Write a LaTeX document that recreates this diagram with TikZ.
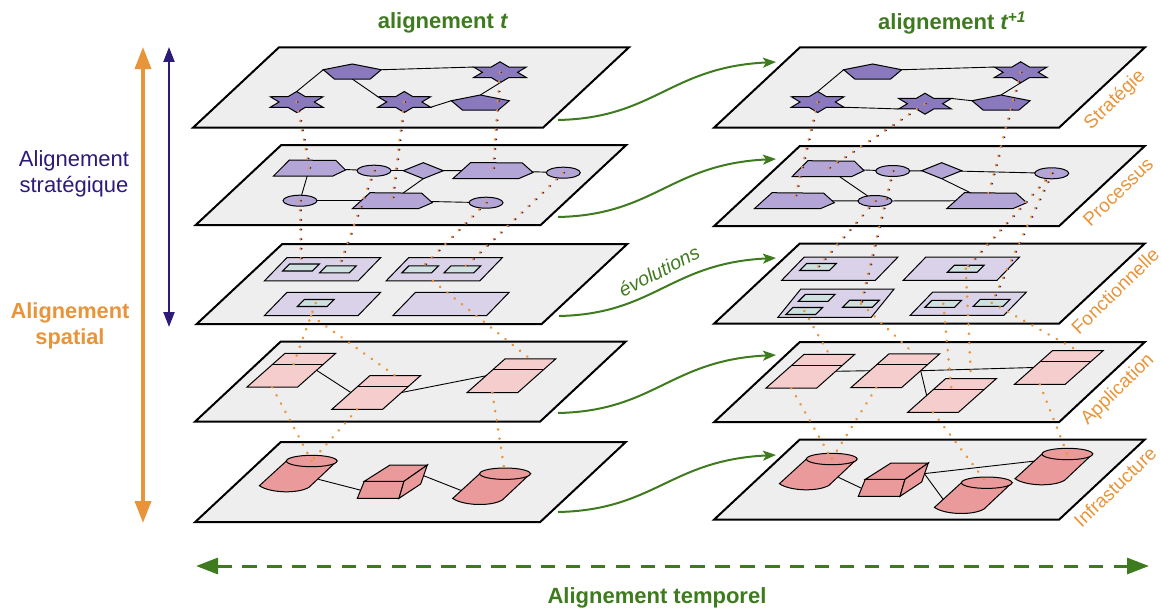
\documentclass[tikz,border=0pt]{standalone}
\usepackage{fontspec}
\setmainfont{Liberation Sans}
\usetikzlibrary{arrows.meta,shapes.geometric,calc}
\pgfdeclarelayer{plate}
\pgfdeclarelayer{edge}
\pgfsetlayers{plate,edge,main}
\definecolor{plategray}{HTML}{EEEEEE}
\definecolor{stratfill}{HTML}{8A7ABD}
\definecolor{procfill}{HTML}{B3A5D5}
\definecolor{funcfill}{HTML}{DAD2E8}
\definecolor{smallfill}{HTML}{CFE0E1}
\definecolor{appfill}{HTML}{F5CDCD}
\definecolor{infrafill}{HTML}{EA9A9A}
\definecolor{deepgreen}{HTML}{3E7B1E}
\definecolor{warmorange}{HTML}{E8943A}
\definecolor{deeppurple}{HTML}{2E1A78}
\begin{document}
\begin{tikzpicture}[x=1pt,y=-1pt]
\tikzset{
plane/.style={draw,fill=plategray,line width=2pt,xslant=1.07,transform shape,minimum width=345pt,minimum height=80pt,inner sep=0pt},
shapeline/.style={draw,line width=1pt,inner sep=0pt,outer sep=0pt},
starnode/.style={shapeline,fill=stratfill,star,star points=6,star point ratio=1.73,minimum size=21pt,xscale=2.9,transform shape},
pentnode/.style={shapeline,fill=stratfill,regular polygon,regular polygon sides=5,minimum size=20pt,xscale=3.05,yscale=.83,transform shape},
ovalnode/.style={shapeline,fill=procfill,ellipse,minimum width=34pt,minimum height=11pt},
gemnode/.style={shapeline,fill=procfill,diamond,minimum width=40pt,minimum height=16pt},
funcbox/.style={shapeline,fill=funcfill,xslant=.97,transform shape,minimum width=93.7pt,minimum height=23.3pt},
funchigh/.style={shapeline,fill=funcfill,xslant=.81,transform shape,minimum width=93.3pt,minimum height=28.3pt},
smallbox/.style={shapeline,fill=smallfill,line width=1.1pt,xslant=1,transform shape,minimum width=29.7pt,minimum height=7pt},
appbox/.style={shapeline,fill=appfill,xslant=1.127,transform shape,minimum width=50.7pt,minimum height=33.7pt,
  append after command={($(\tikzlastnode.north west)!.32!(\tikzlastnode.south west)$) edge [draw,line width=1.2pt] ($(\tikzlastnode.north east)!.32!(\tikzlastnode.south east)$)}},
wire/.style={line width=.9pt},
linkboth/.style={draw=warmorange,line width=3pt,line cap=round,dash pattern=on .1pt off 9.5pt,postaction={draw=deeppurple,line width=1.7pt,transform canvas={xshift=1.1pt}}},
linkone/.style={draw=warmorange,line width=2.8pt,line cap=round,dash pattern=on .1pt off 9.2pt},
evol/.style={draw=deepgreen,line width=2pt,-{Stealth[length=13pt,width=10pt,inset=3pt]}},
layername/.style={text=warmorange,font=\fontsize{19}{23}\selectfont,rotate=44},
column/.style={text=deepgreen,font=\fontsize{22}{26}\selectfont\bfseries},
hexa/.pic={\draw [shapeline,fill=procfill] (-40,8) -- (-22.3,-8) -- (29.4,-7.5) -- (40,2) -- (26,8) -- cycle; \coordinate (-c) at (0,0);},
drum/.pic={\draw [shapeline,fill=infrafill] (-25.3,0) -- (-52.3,24.7) .. controls (-42,32) and (-14,33) .. (-2.7,26.3) -- (25.3,0) -- cycle;
  \draw [shapeline,fill=infrafill] (0,0) ellipse [x radius=25.3pt,y radius=5.7pt];
  \coordinate (-c) at (0,0); \coordinate (-r) at (6.7,18.3); \coordinate (-l) at (-43.3,17); \coordinate (-u) at (-32,7);},
brick/.pic={\draw [shapeline,fill=infrafill] (-39.7,0) -- (0,0) -- (-5,17) -- (-46.7,17) -- cycle;
  \draw [shapeline,fill=infrafill] (-39.7,0) -- (-14,-16.3) -- (23.3,-16.3) -- (0,0) -- cycle;
  \draw [shapeline,fill=infrafill] (0,0) -- (23.3,-16.3) -- (16.7,2.7) -- (-5,17) -- cycle;
  \coordinate (-l) at (-44,8.7); \coordinate (-r) at (19.3,-5.7);}
}
\useasboundingbox (0,0) rectangle (1161,610);
% planes
\begin{pgfonlayer}{plate}
\node (pa1) [plane,minimum width=350pt] at (411,87.5) {};
\node (pa2) [plane] at (411,185) {};
\node (pa3) [plane] at (412,284) {};
\node (pa4) [plane] at (410.5,381.5) {};
\node (pa5) [plane] at (410.5,482) {};
\node (pb1) [plane] at (929.5,87.5) {};
\node (pb2) [plane] at (929.5,186) {};
\node (pb3) [plane] at (929.5,283.5) {};
\node (pb4) [plane] at (929.5,382) {};
\node (pb5) [plane] at (929.5,479.5) {};
\end{pgfonlayer}
% left column
\node (as1) [starnode] at (296.7,102) {};
\node (as2) [starnode] at (500,72.3) {};
\node (as3) [starnode] at (404.3,102) {};
\node (ap1) [pentnode] at (352.3,72.3) {};
\node (ap2) [pentnode] at (480.3,103.3) {};
\pic (ah1) [xscale=.9] at (309.5,168) {hexa};
\pic (ah2) at (493,170.5) {hexa};
\pic (ah3) at (392.3,200.7) {hexa};
\node (ao1) [ovalnode] at (374,170.7) {};
\node (ao2) [ovalnode] at (563.3,172.7) {};
\node (ao3) [ovalnode] at (300,200.7) {};
\node (ao4) [ovalnode] at (486,202.7) {};
\node (ag1) [gemnode] at (423.3,170.7) {};
\node (af1) [funcbox] at (322.5,269.3) {};
\node (af2) [funcbox] at (322.5,304) {};
\node (af3) [funcbox] at (444.2,269.3) {};
\node (af4) [funcbox] at (451,304) {};
\node (ab1) [smallbox] at (301,267.5) {};
\node (ab2) [smallbox] at (338,269.3) {};
\node (ab3) [smallbox] at (315.7,303) {};
\node (ab4) [smallbox] at (420.3,269.3) {};
\node (ab5) [smallbox] at (462.5,269.3) {};
\node (aa1) [appbox] at (291.2,370.3) {};
\node (aa2) [appbox] at (376.2,392.5) {};
\node (aa3) [appbox] at (511.3,375.8) {};
\pic (ac1) at (311.7,461) {drum};
\pic (ac2) at (505,473.7) {drum};
\pic (ak1) at (404,481.3) {brick};
% right column
\node (bs1) [starnode] at (817.7,102) {};
\node (bs2) [starnode] at (1020.7,72.3) {};
\node (bs3) [starnode] at (925,103.7) {};
\node (bp1) [pentnode] at (872.7,72.3) {};
\node (bp2) [pentnode] at (1001,103.3) {};
\pic (bh1) [xscale=.9] at (828,168.7) {hexa};
\pic (bh2) at (794.3,200.7) {hexa};
\pic (bh3) at (986.7,200.7) {hexa};
\node (bo1) [ovalnode] at (892.7,171) {};
\node (bo2) [ovalnode] at (1051.7,173.3) {};
\node (bo3) [ovalnode] at (875,201) {};
\node (bg1) [gemnode] at (941.7,170.7) {};
\node (bf1) [funcbox] at (839.7,268.8) {};
\node (bf2) [funcbox] at (961.3,268.8) {};
\node (bf3) [funchigh] at (836,303.2) {};
\node (bf4) [funcbox] at (968.3,303.7) {};
\node (bb1) [smallbox] at (818,267) {};
\node (bb2) [smallbox] at (965.8,268.7) {};
\node (bb3) [smallbox] at (816.8,297.8) {};
\node (bb4) [smallbox] at (804.3,311) {};
\node (bb5) [smallbox] at (861,303.7) {};
\node (bb6) [smallbox] at (943.3,303.8) {};
\node (bb7) [smallbox] at (991.7,302.8) {};
\node (ba1) [appbox] at (810.3,371.3) {};
\node (ba2) [appbox] at (895.3,370.7) {};
\node (ba3) [appbox] at (952,395.5) {};
\node (ba4) [appbox] at (1058.8,367.5) {};
\pic (bc1) at (831.7,459) {drum};
\pic (bc2) at (986.7,482.7) {drum};
\pic (bc3) at (1067.3,454) {drum};
\pic (bk1) at (905,479.3) {brick};
% wires
\begin{pgfonlayer}{edge}
\draw [wire] (as1.outer point 1) -- (ap1.corner 2);
\draw [wire] (ap1.south) -- (as3.outer point 2);
\draw [wire] (ap1.corner 5) -- (as2.outer point 2);
\draw [wire] (as3.outer point 5) -- (ap2.corner 2);
\draw [wire] (ap2.corner 1) -- (as2.outer point 4);
\draw [wire] (ah1-c) -- (ao1);
\draw [wire] (ao1) -- (ag1);
\draw [wire] (ag1) -- (ah2-c);
\draw [wire] (ah2-c) -- (ao2);
\draw [wire] (ah1-c) -- (ao3);
\draw [wire] (ao3) -- (ah3-c);
\draw [wire] (ah3-c) -- (ao4);
\draw [wire] (ag1.south) -- (ah3-c);
\draw [wire] (aa1.east) -- (aa2.west);
\draw [wire] (aa2.east) -- (aa3.west);
\draw [wire] (ac1-r) -- (ak1-l);
\draw [wire] (ak1-r) -- (ac2-l);
\draw [wire] (bs1.outer point 1) -- (bp1.corner 2);
\draw [wire] (bp1.corner 5) -- (bs2.outer point 2);
\draw [wire] (bs1.outer point 5) -- (bs3.outer point 3);
\draw [wire] (bs3.outer point 6) -- (bp2.corner 2);
\draw [wire] (bp2.corner 1) -- (bs2.outer point 4);
\draw [wire] (bh1-c) -- (bo1);
\draw [wire] (bo1) -- (bg1);
\draw [wire] (bg1) -- (bo2);
\draw [wire] (bh1-c) -- (bo3);
\draw [wire] (bh2-c) -- (bo3);
\draw [wire] (bo3) -- (bh3-c);
\draw [wire] (bg1.south) -- (bh3-c);
\draw [wire] (ba1.east) -- (ba2.west);
\draw [wire] (ba2.east) -- (ba4.west);
\draw [wire] (ba2.east) -- (ba3.west);
\draw [wire] (bc1-r) -- (bk1-l);
\draw [wire] (bk1-r) -- (bc3-u);
\draw [wire] (bk1-r) -- (bc2-l);
\end{pgfonlayer}
% dotted links, left
\draw [linkboth] (as1.center) -- (ah1-c);
\draw [linkboth] (ao3.center) -- (ab1.center);
\draw [linkboth] (as3.center) -- (ah3-c);
\draw [linkboth] (as2.center) -- (ah2-c);
\draw [linkboth] (ao1.center) -- (ab2.center);
\draw [linkboth] (ao4.center) -- (ab4.center);
\draw [linkboth] (ao2.center) -- (ab5.center);
\draw [linkone] (ab3.center) -- (aa1.center);
\draw [linkone] (af2.south) -- (aa2.north);
\draw [linkone] (af3.south) -- (aa3.north);
\draw [linkone] (aa1.south) -- (ac1-c);
\draw [linkone] (aa2.south) -- (ac1-c);
\draw [linkone] (aa3.south) -- (ac2-c);
% dotted links, right
\draw [linkboth] (bs1.center) -- (bh2-c);
\draw [linkboth] (bs3.center) -- (bh1-c);
\draw [linkboth] (bs2.center) -- (bh3-c);
\draw [linkboth] (bo1.center) -- (bb5.center);
\draw [linkboth] (bo3.center) -- (bb1.center);
\draw [linkboth] (bo2.center) -- (bb7.center);
\draw [linkboth] (bo2.center) -- (bb2.center);
\draw [linkone] (bb4.center) -- (ba1.north);
\draw [linkone] (bb5.center) -- (ba2.north);
\draw [linkone] (bb6.center) -- (ba3.center);
\draw [linkone] (bb2.center) -- (ba3.north);
\draw [linkone] (bb7.center) -- (ba4.north);
\draw [linkone] (ba1.south) -- (bc1-c);
\draw [linkone] (ba2.south) -- (bc1-c);
\draw [linkone] (ba3.south) -- (bc2-c);
\draw [linkone] (ba4.south) -- (bc3-c);
% evolution arrows
\coordinate (ea1) at (558,120);
\coordinate (ea2) at (558,217);
\coordinate (ea3) at (559,316);
\coordinate (ea4) at (558,413);
\coordinate (ea5) at (558,512);
\coordinate (eb1) at (776,62);
\coordinate (eb2) at (776,159);
\coordinate (eb3) at (776,258);
\coordinate (eb4) at (776,355);
\coordinate (eb5) at (776,455);
\draw [evol] (ea1) .. controls (655,118) and (670,67) .. (eb1);
\draw [evol] (ea2) .. controls (655,215) and (670,164) .. (eb2);
\draw [evol] (ea3) .. controls (655,314) and (670,263) .. (eb3);
\draw [evol] (ea4) .. controls (655,411) and (670,360) .. (eb4);
\draw [evol] (ea5) .. controls (655,510) and (670,460) .. (eb5);
% axes
\coordinate (ot) at (143,47);
\coordinate (ob) at (143,523);
\coordinate (ut) at (169,47);
\coordinate (ub) at (169,327);
\coordinate (gl) at (196,566);
\coordinate (gr) at (1149,566);
\draw [warmorange,line width=3.6pt,{Triangle[length=22pt,width=16pt]}-{Triangle[length=22pt,width=16pt]}] (ot) -- (ob);
\draw [deeppurple,line width=2.2pt,{Triangle[length=15pt,width=11pt]}-{Triangle[length=15pt,width=11pt]}] (ut) -- (ub);
\draw [deepgreen,line width=3pt,dash pattern=on 14.5pt off 10.4pt,{Triangle[length=22pt,width=16pt]}-{Triangle[length=22pt,width=16pt]}] (gl) -- (gr);
% labels
\node (tl) [column] at (443,23) {alignement \textit{t}};
\node (tr) [column] at (952,23) {alignement \textit{t\textsuperscript{+1}}};
\node (tb) [column,font=\fontsize{22}{26}\selectfont\bfseries] at (657,598) {Alignement temporel};
\node (ls) [text=deeppurple,align=center,font=\fontsize{22}{26}\selectfont] at (74,174) {Alignement\\stratégique};
\node (lo) [text=warmorange,align=center,font=\fontsize{21.8}{26}\selectfont\bfseries] at (70,326) {Alignement\\spatial};
\node (ev) [text=deepgreen,font=\fontsize{19.5}{23}\selectfont\itshape,rotate=27] at (659,271) {évolutions};
\node (n1) [layername] at (1115,100) {Stratégie};
\node (n2) [layername] at (1118,192) {Processus};
\node (n3) [layername] at (1115,291) {Fonctionnelle};
\node (n4) [layername] at (1118,390) {Application};
\node (n5) [layername] at (1115,487) {Infrastucture};
\end{tikzpicture}
\end{document}
